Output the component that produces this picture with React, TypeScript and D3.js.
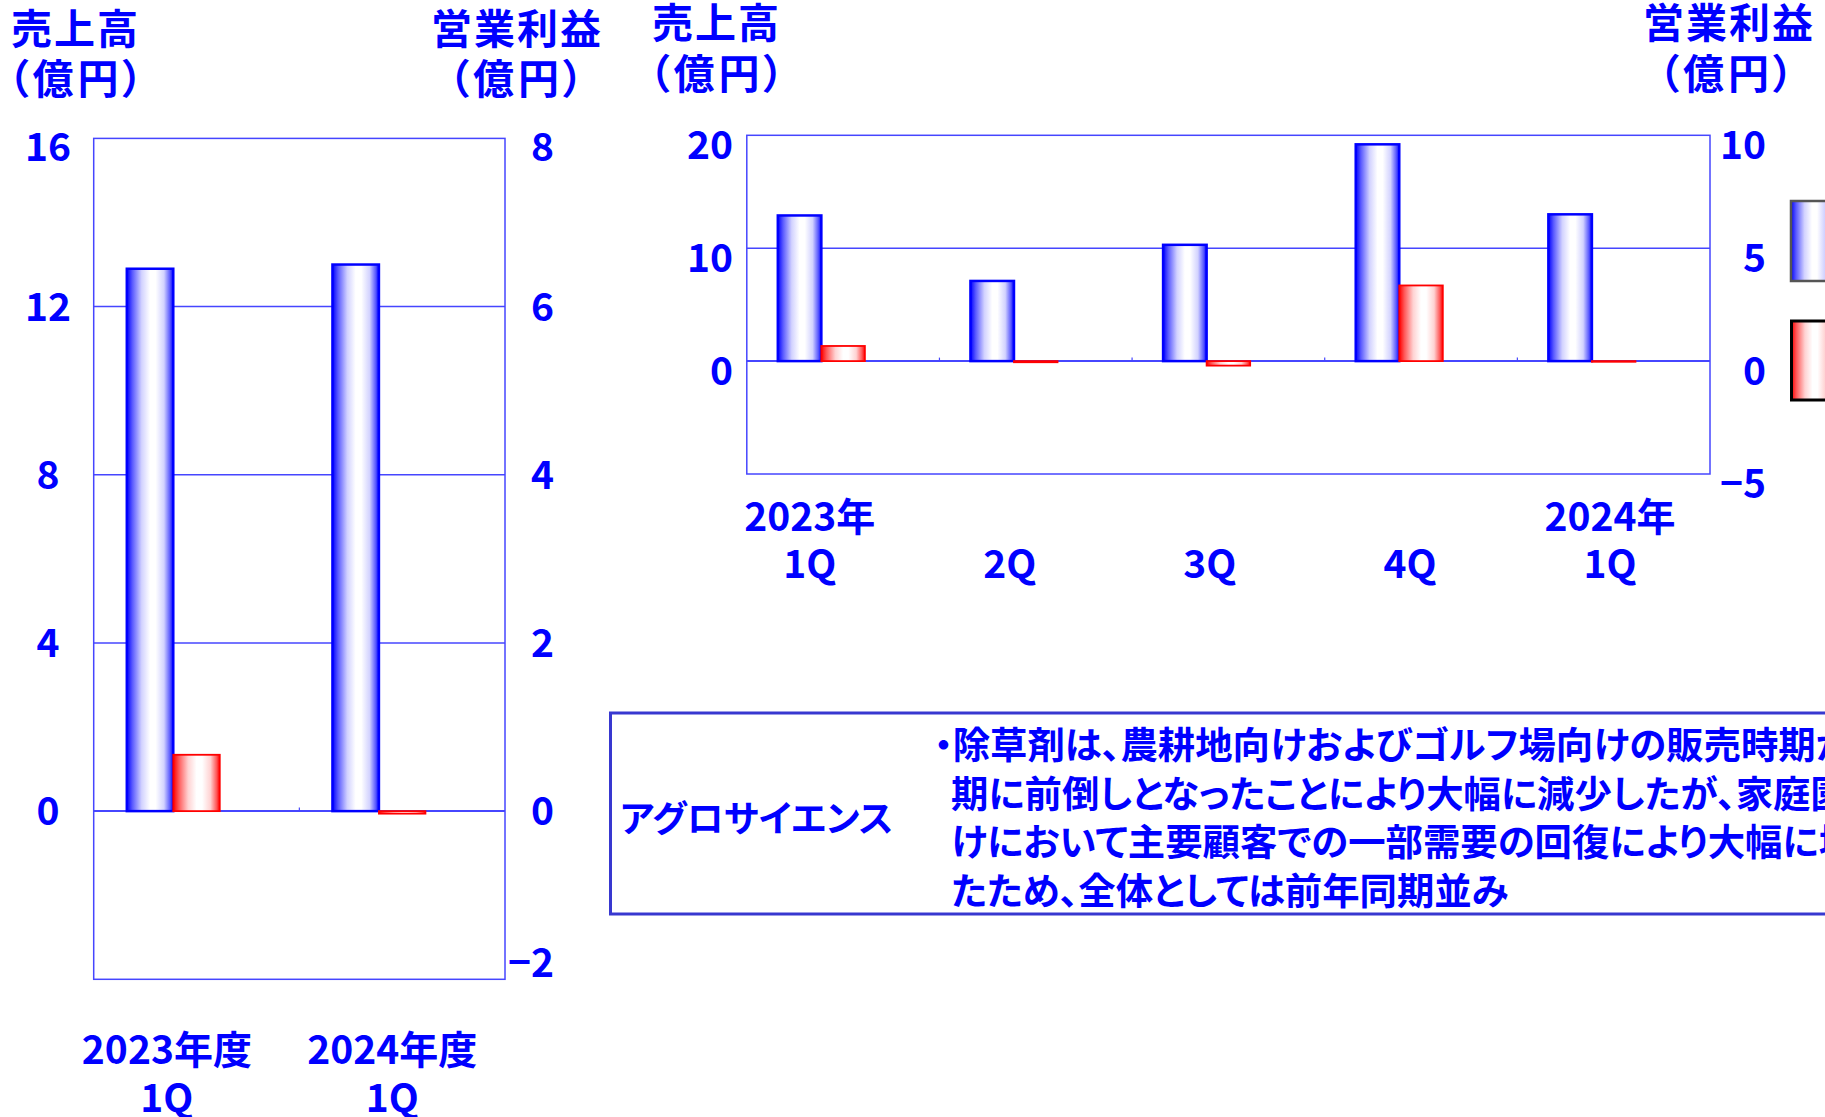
import React from 'react';
import * as d3 from 'd3';

const W = 1825;
const H = 1117;

// 前年同期比較（年度別 1Q）
const annualCategories = ['2023年度1Q', '2024年度1Q'];
const annualYearLabels = ['2023年度', '2024年度'];
const annualQuarterLabels = ['1Q', '1Q'];
const annualSales = [12.9, 13.0];
const annualProfit = [0.67, -0.03];
const annualSalesTicks = [0, 4, 8, 12, 16];
const annualProfitTicks = [-2, 0, 2, 4, 6, 8];

// 四半期推移
const quarterCategories = ['2023-1Q', '2023-2Q', '2023-3Q', '2023-4Q', '2024-1Q'];
const quarterYearLabels = ['2023年', '', '', '', '2024年'];
const quarterLabels = ['1Q', '2Q', '3Q', '4Q', '1Q'];
const quarterSales = [12.9, 7.1, 10.3, 19.2, 13.0];
const quarterProfit = [0.67, -0.05, -0.2, 3.35, -0.03];
const quarterSalesTicks = [0, 10, 20];
const quarterProfitTicks = [-5, 0, 5, 10];

// 各カテゴリ内の系列スロット（3 番目は空き）
const seriesSlots = ['sales', 'profit', 'spare'];

const salesAxisTitle = ['売上高', '（億円）'];
const profitAxisTitle = ['営業利益', '（億円）'];

const commentTitle = 'アグロサイエンス';
const commentLines = [
  '・除草剤は、農耕地向けおよびゴルフ場向けの販売時期が前',
  '期に前倒しとなったことにより大幅に減少したが、家庭園芸向',
  'けにおいて主要顧客での一部需要の回復により大幅に増加し',
  'たため、全体としては前年同期並み',
];

const BLUE = '#0000FF';
const RED = '#FF0000';
const FRAME = '#4646FF';
const FONT = "'Noto Sans CJK JP', 'Noto Sans CJK SC', sans-serif";
const PALT = { fontFeatureSettings: '"palt"' } as React.CSSProperties;

type ChartProps = {
  cats: string[];
  sales: number[];
  profit: number[];
  yearLabels: string[];
  qLabels: string[];
  left: number;
  right: number;
  top: number;
  bottom: number;
  salesDomain: [number, number];
  profitDomain: [number, number];
  salesTicks: number[];
  profitTicks: number[];
  salesLabelX: number;
  salesLabelAnchor: 'start' | 'middle' | 'end';
  profitLabelX: number;
  labelShift: number;
  insetTop: number;
  insetBottom: number;
  catLine1Y: number;
  catLine2Y: number;
  tickFont: number;
};

function DualAxisBars(p: ChartProps) {
  const x = d3.scaleBand<string>().domain(p.cats).range([p.left, p.right]).padding(0);
  const slot = d3
    .scaleBand<string>()
    .domain(seriesSlots)
    .range([0, x.bandwidth()])
    .paddingInner(0)
    .paddingOuter(0.712);
  const yS = d3.scaleLinear().domain(p.salesDomain).range([p.bottom, p.top]);
  const yP = d3.scaleLinear().domain(p.profitDomain).range([p.bottom, p.top]);
  const bw = slot.bandwidth();
  const fs = p.tickFont;

  // カテゴリ名は左に少し広げた帯に均等配置
  const xLabel = d3
    .scaleBand<string>()
    .domain(p.cats)
    .range([p.left - bw * 0.85, p.right])
    .padding(0);

  const labelY = (v: number) => {
    const c = Math.max(p.top + p.insetTop, Math.min(p.bottom - p.insetBottom, v + p.labelShift));
    return c + fs * 0.36;
  };

  const gridVals = p.salesTicks.filter((v) => v < p.salesDomain[1] && v !== 0);
  const zeroY = yS(0);
  const boundaries = p.cats.slice(1).map((c) => x(c) as number);

  return (
    <g>
      {gridVals.map((v) => (
        <line key={'g' + v} x1={p.left} x2={p.right} y1={yS(v)} y2={yS(v)} stroke={FRAME} strokeWidth={1.5} />
      ))}
      <line x1={p.left} x2={p.right} y1={zeroY} y2={zeroY} stroke={FRAME} strokeWidth={2} />
      {boundaries.map((bx, i) => (
        <line key={'t' + i} x1={bx} x2={bx} y1={zeroY} y2={zeroY - 3.5} stroke={FRAME} strokeWidth={1.2} />
      ))}
      {p.cats.map((c, i) => {
        const bx = (x(c) as number) + (slot('sales') as number);
        const y0 = yS(0);
        const ys = yS(p.sales[i]);
        return (
          <rect
            key={'s' + c}
            x={bx}
            y={Math.min(ys, y0)}
            width={bw}
            height={Math.abs(y0 - ys)}
            fill="url(#gradBlue)"
            stroke={BLUE}
            strokeWidth={2.5}
          />
        );
      })}
      {p.cats.map((c, i) => {
        const bx = (x(c) as number) + (slot('profit') as number);
        const y0 = yP(0);
        const yp = yP(p.profit[i]);
        return (
          <rect
            key={'p' + c}
            x={bx}
            y={Math.min(yp, y0)}
            width={bw}
            height={Math.max(0.5, Math.abs(y0 - yp))}
            fill="url(#gradRed)"
            stroke={RED}
            strokeWidth={1.8}
          />
        );
      })}
      <rect
        x={p.left}
        y={p.top}
        width={p.right - p.left}
        height={p.bottom - p.top}
        fill="none"
        stroke={FRAME}
        strokeWidth={1.5}
      />
      {p.salesTicks.map((v) => (
        <text key={'ls' + v} x={p.salesLabelX} y={labelY(yS(v))} textAnchor={p.salesLabelAnchor} fontSize={fs}>
          {v}
        </text>
      ))}
      {p.profitTicks.map((v) => (
        <text key={'lp' + v} x={p.profitLabelX} y={labelY(yP(v))} textAnchor="end" fontSize={fs}>
          {v < 0 ? '\u2212' + Math.abs(v) : v}
        </text>
      ))}
      {p.cats.map((c, i) => {
        const cx = (xLabel(c) as number) + xLabel.bandwidth() / 2;
        return (
          <g key={'c' + c}>
            {p.yearLabels[i] && (
              <text x={cx} y={p.catLine1Y} textAnchor="middle" fontSize={fs}>
                {p.yearLabels[i]}
              </text>
            )}
            <text x={cx} y={p.catLine2Y} textAnchor="middle" fontSize={fs}>
              {p.qLabels[i]}
            </text>
          </g>
        );
      })}
    </g>
  );
}

function Gradient({ id, edge, mid, light }: { id: string; edge: string; mid: string; light: string }) {
  return (
    <linearGradient id={id} x1="0" x2="1" y1="0" y2="0">
      <stop offset="0" stopColor={edge} />
      <stop offset="0.12" stopColor={mid} />
      <stop offset="0.32" stopColor={light} />
      <stop offset="0.5" stopColor="#FFFFFF" />
      <stop offset="0.62" stopColor="#FFFFFF" />
      <stop offset="0.8" stopColor={light} />
      <stop offset="0.93" stopColor={mid} />
      <stop offset="1" stopColor={edge} />
    </linearGradient>
  );
}

export default function App() {
  return (
    <svg
      width={W}
      height={H}
      viewBox={`0 0 ${W} ${H}`}
      style={{ position: 'absolute', left: 0, top: 0, display: 'block', background: '#FFFFFF' }}
      fontFamily={FONT}
      fontWeight={700}
      fill={BLUE}
    >
      <defs>
        <Gradient id="gradBlue" edge="#0000FF" mid="#5A5AFF" light="#D2D2FF" />
        <Gradient id="gradRed" edge="#FF0000" mid="#FF5A5A" light="#FFD2D2" />
      </defs>
      <rect x={0} y={0} width={W} height={H} fill="#FFFFFF" />

      {/* 年度比較チャート */}
      <g style={PALT} fontSize={41}>
        <text x={11} y={44} letterSpacing={2}>{salesAxisTitle[0]}</text>
        <text x={8} y={94} letterSpacing={4}>{salesAxisTitle[1]}</text>
        <text x={517} y={44} textAnchor="middle" letterSpacing={2}>{profitAxisTitle[0]}</text>
        <text x={518} y={94} textAnchor="middle" letterSpacing={4}>{profitAxisTitle[1]}</text>
      </g>
      <DualAxisBars
        cats={annualCategories}
        sales={annualSales}
        profit={annualProfit}
        yearLabels={annualYearLabels}
        qLabels={annualQuarterLabels}
        left={93.7}
        right={505}
        top={138.4}
        bottom={979.3}
        salesDomain={[-4, 16]}
        profitDomain={[-2, 8]}
        salesTicks={annualSalesTicks}
        profitTicks={annualProfitTicks}
        salesLabelX={48}
        salesLabelAnchor="middle"
        profitLabelX={554}
        labelShift={0}
        insetTop={9}
        insetBottom={16}
        catLine1Y={1064}
        catLine2Y={1112}
        tickFont={39}
      />

      {/* 四半期推移チャート */}
      <g style={PALT} fontSize={41}>
        <text x={652} y={38} letterSpacing={2}>{salesAxisTitle[0]}</text>
        <text x={649} y={89} letterSpacing={4}>{salesAxisTitle[1]}</text>
        <text x={1729} y={38} textAnchor="middle" letterSpacing={2}>{profitAxisTitle[0]}</text>
        <text x={1728} y={89} textAnchor="middle" letterSpacing={4}>{profitAxisTitle[1]}</text>
      </g>
      <DualAxisBars
        cats={quarterCategories}
        sales={quarterSales}
        profit={quarterProfit}
        yearLabels={quarterYearLabels}
        qLabels={quarterLabels}
        left={746.8}
        right={1710}
        top={135.3}
        bottom={474}
        salesDomain={[-10, 20]}
        profitDomain={[-5, 10]}
        salesTicks={quarterSalesTicks}
        profitTicks={quarterProfitTicks}
        salesLabelX={733}
        salesLabelAnchor="end"
        profitLabelX={1766}
        labelShift={10}
        insetTop={0}
        insetBottom={-20}
        catLine1Y={531}
        catLine2Y={578}
        tickFont={39}
      />

      {/* 凡例（右端） */}
      <rect x={1791} y={201} width={42} height={80} fill="url(#gradBlue)" stroke="#555555" strokeWidth={2.5} />
      <rect x={1791.5} y={321} width={42} height={79} fill="url(#gradRed)" stroke="#000000" strokeWidth={3} />

      {/* コメント欄 */}
      <rect x={610.5} y={713} width={1240} height={201} fill="none" stroke="#3838D0" strokeWidth={3} />
      <g style={PALT}>
        <text x={620} y={832} fontSize={36.5}>{commentTitle}</text>
        {commentLines.map((line, i) => (
          <text key={i} x={i === 0 ? 934 : 951} y={759 + i * 48.5} fontSize={37.4}>
            {line}
          </text>
        ))}
      </g>
    </svg>
  );
}
